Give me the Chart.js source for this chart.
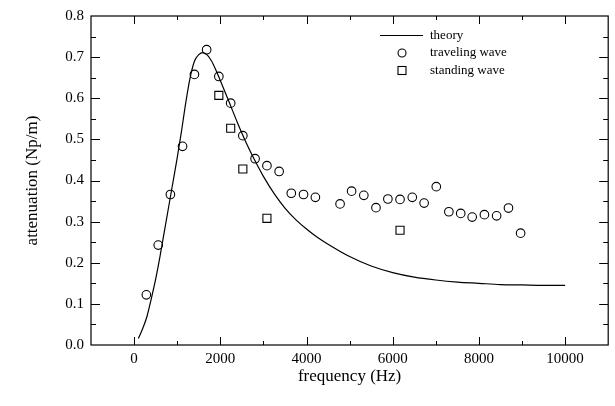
<!DOCTYPE html>
<html>
<head>
<meta charset="utf-8">
<script src="https://cdn.jsdelivr.net/npm/chart.js@4"></script>
<style>
  html, body { margin: 0; padding: 0; background: #fff; }
</style>
</head>
<body>
<canvas id="attenuation-chart" width="615" height="406"></canvas>
<script>
// theory curve
const theoryFreq = [100, 200, 300, 400, 500, 600, 700, 800, 900, 1000, 1100, 1200, 1300, 1400, 1500, 1600, 1700, 1800, 1900, 2000, 2200, 2400, 2600, 2800, 3000, 3250, 3500, 3750, 4000, 4250, 4500, 5000, 5500, 6000, 6500, 7000, 7500, 8000, 8500, 9000, 9500, 10000];
const theoryAtt = [0.016, 0.04, 0.07, 0.113, 0.16, 0.215, 0.275, 0.335, 0.395, 0.455, 0.52, 0.59, 0.65, 0.69, 0.706, 0.711, 0.705, 0.69, 0.668, 0.643, 0.592, 0.54, 0.492, 0.449, 0.41, 0.368, 0.333, 0.305, 0.282, 0.262, 0.245, 0.215, 0.192, 0.176, 0.165, 0.158, 0.153, 0.150, 0.147, 0.146, 0.145, 0.145];

// traveling wave measurements
const travelFreq = [284, 560, 842, 1124, 1400, 1683, 1966, 2241, 2523, 2807, 3082, 3365, 3647, 3931, 4206, 4779, 5046, 5330, 5612, 5888, 6170, 6454, 6729, 7011, 7303, 7578, 7844, 8128, 8411, 8686, 8968];
const travelAtt = [0.122, 0.243, 0.366, 0.483, 0.658, 0.718, 0.653, 0.588, 0.509, 0.453, 0.436, 0.422, 0.369, 0.366, 0.359, 0.343, 0.374, 0.364, 0.334, 0.355, 0.354, 0.359, 0.345, 0.385, 0.324, 0.320, 0.311, 0.317, 0.314, 0.333, 0.272];

// standing wave measurements
const standFreq = [1966, 2241, 2523, 3082, 6170];
const standAtt = [0.607, 0.527, 0.428, 0.308, 0.279];

// axis ticks
const xTickValues = [0, 2000, 4000, 6000, 8000, 10000];
const yTickValues = [0, 0.1, 0.2, 0.3, 0.4, 0.5, 0.6, 0.7, 0.8];

const serif = "'Liberation Serif', 'Times New Roman', serif";

function toPoints(xs, ys) {
  return xs.map((x, i) => ({ x: x, y: ys[i] }));
}

// frame with inward ticks on all four sides
const framePlugin = {
  id: 'frame',
  afterDraw(chart) {
    const ctx = chart.ctx;
    const area = chart.chartArea;
    const xs = chart.scales.x;
    const ys = chart.scales.y;
    ctx.save();
    ctx.strokeStyle = '#000';
    ctx.lineWidth = 1.2;
    ctx.strokeRect(area.left, area.top, area.right - area.left, area.bottom - area.top);
    ctx.lineWidth = 1;
    ctx.beginPath();
    for (let v = 0; v <= 10000; v += 1000) {
      const px = Math.round(xs.getPixelForValue(v)) + 0.5;
      const len = v % 2000 === 0 ? 8 : 4;
      ctx.moveTo(px, area.bottom); ctx.lineTo(px, area.bottom - len);
      ctx.moveTo(px, area.top); ctx.lineTo(px, area.top + len);
    }
    for (let i = 1; i < 16; i++) {
      const v = i * 0.05;
      const py = Math.round(ys.getPixelForValue(v)) + 0.5;
      const len = i % 2 === 0 ? 9 : 5;
      ctx.moveTo(area.left, py); ctx.lineTo(area.left + len, py);
      ctx.moveTo(area.right, py); ctx.lineTo(area.right - len, py);
    }
    ctx.stroke();
    ctx.restore();
  }
};

// legend in the upper right of the plot
const legendPlugin = {
  id: 'innerLegend',
  afterDraw(chart) {
    const ctx = chart.ctx;
    const lx = 380, tx = 430;
    const rows = [35.5, 53, 70.5];
    ctx.save();
    ctx.strokeStyle = '#000';
    ctx.lineWidth = 1.2;
    ctx.beginPath();
    ctx.moveTo(lx, rows[0]); ctx.lineTo(lx + 43, rows[0]);
    ctx.stroke();
    ctx.lineWidth = 1.1;
    ctx.beginPath();
    ctx.arc(402, rows[1], 4, 0, Math.PI * 2);
    ctx.stroke();
    ctx.strokeRect(398, rows[2] - 4, 8, 8);
    ctx.fillStyle = '#000';
    ctx.font = '13px ' + serif;
    ctx.textBaseline = 'middle';
    ctx.fillText('theory', tx, rows[0]);
    ctx.fillText('traveling wave', tx, rows[1]);
    ctx.fillText('standing wave', tx, rows[2]);
    ctx.restore();
  }
};

const ctx = document.getElementById('attenuation-chart').getContext('2d');
new Chart(ctx, {
  type: 'scatter',
  data: {
    datasets: [
      {
        label: 'theory',
        data: toPoints(theoryFreq, theoryAtt),
        showLine: true,
        borderColor: '#000',
        borderWidth: 1.2,
        pointRadius: 0,
        cubicInterpolationMode: 'monotone',
        fill: false,
      },
      {
        label: 'traveling wave',
        data: toPoints(travelFreq, travelAtt),
        pointStyle: 'circle',
        pointRadius: 4.3,
        borderColor: '#000',
        backgroundColor: 'rgba(0,0,0,0)',
        pointBorderWidth: 1.1,
      },
      {
        label: 'standing wave',
        data: toPoints(standFreq, standAtt),
        pointStyle: 'rect',
        pointRadius: 5.7,
        borderColor: '#000',
        backgroundColor: 'rgba(0,0,0,0)',
        pointBorderWidth: 1.1,
      },
    ]
  },
  options: {
    responsive: false,
    animation: false,
    layout: { padding: { top: 11, right: 3, left: 0, bottom: 0 } },
    plugins: {
      legend: { display: false },
      tooltip: { enabled: false },
    },
    scales: {
      x: {
        type: 'linear',
        min: -1000,
        max: 11000,
        afterFit: (scale) => { scale.height = 61; },
        afterBuildTicks: (scale) => { scale.ticks = xTickValues.map(v => ({ value: v })); },
        grid: { display: false, drawTicks: false },
        border: { display: false },
        ticks: {
          color: '#000',
          padding: 5,
          maxRotation: 0,
          font: { family: serif, size: 15 },
          callback: (v) => String(v),
        },
        title: {
          display: true,
          text: 'frequency (Hz)',
          color: '#000',
          font: { family: serif, size: 17 },
          padding: { top: 0, bottom: 19 },
        },
      },
      y: {
        min: 0,
        max: 0.8,
        afterFit: (scale) => { scale.width = 91; },
        afterBuildTicks: (scale) => { scale.ticks = yTickValues.map(v => ({ value: v })); },
        grid: { display: false, drawTicks: false },
        border: { display: false },
        ticks: {
          color: '#000',
          padding: 7,
          font: { family: serif, size: 15 },
          callback: (v) => Number(v).toFixed(1),
        },
        title: {
          display: true,
          text: 'attenuation (Np/m)',
          color: '#000',
          font: { family: serif, size: 17 },
          padding: { top: 22, bottom: 0 },
        },
      },
    },
  },
  plugins: [framePlugin, legendPlugin],
});
</script>
</body>
</html>
